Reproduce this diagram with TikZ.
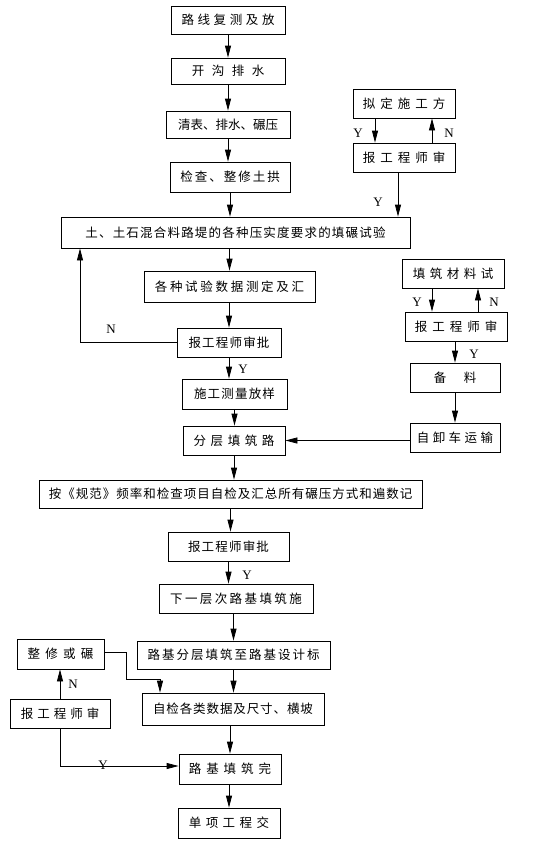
\documentclass[tikz,border=0pt]{standalone}
\usepackage{fontspec}
\setmainfont{Liberation Serif}
\newfontfamily\cjk{Noto Sans CJK SC}
\usetikzlibrary{arrows.meta}
\makeatletter
% 字间距：在每两个汉字之间插入 #1
\newcommand\spreadcjk[2]{\def\spread@gap{}\@tfor\spread@c:=#2\do{\spread@gap\spread@c\def\spread@gap{\kern#1}}}
\makeatother
\tikzset{
	flowbox/.style={draw, line width=0.8pt, inner sep=0pt, font=\cjk\fontsize{12.5}{14}\selectfont},
	yn/.style={inner sep=0pt, font=\fontsize{13}{14}\selectfont},
}
\begin{document}
\begin{tikzpicture}[x=1pt, y=-1pt, >={Triangle[length=12pt,width=6pt]}, line width=0.8pt]
	\useasboundingbox (0,0) rectangle (553,846);
	
	% 1. 主流程方框
	\node[flowbox, minimum width=114pt, minimum height=28pt] (fuce) at (228,20) {\spreadcjk{3.6pt}{路线复测及放}};
	\node[flowbox, minimum width=114pt, minimum height=26pt] (paishui) at (228,71) {\spreadcjk{7.5pt}{开沟排水}};
	\node[flowbox, minimum width=124pt, minimum height=27pt] (qingbiao) at (228,124.5) {清表、排水、碾压};
	\node[flowbox, minimum width=120pt, minimum height=30pt] (jiancha) at (230,177) {\spreadcjk{2pt}{检查、整修土拱}};
	\node[flowbox, minimum width=349pt, minimum height=31pt] (tianshi) at (235.5,232.5) {\spreadcjk{1.2pt}{土、土石混合料路堤的各种压实度要求的填碾试验}};
	\node[flowbox, minimum width=171pt, minimum height=31pt] (shuju) at (229.5,286.5) {\spreadcjk{2.7pt}{各种试验数据测定及汇}};
	\node[flowbox, minimum width=104pt, minimum height=29pt] (shenpiA) at (229,342.5) {\spreadcjk{1.2pt}{报工程师审批}};
	\node[flowbox, minimum width=105pt, minimum height=30pt] (celiang) at (234.5,394) {\spreadcjk{1.2pt}{施工测量放样}};
	\node[flowbox, minimum width=102pt, minimum height=29pt] (fenceng) at (234,440.5) {\spreadcjk{4.6pt}{分层填筑路}};
	\node[flowbox, minimum width=383pt, minimum height=28pt] (jiyu) at (230.5,494) {\spreadcjk{1pt}{按《规范》频率和检查项目自检及汇总所有碾压方式和遍数记}};
	\node[flowbox, minimum width=121pt, minimum height=29pt] (shenpiB) at (228.5,546.5) {\spreadcjk{1.2pt}{报工程师审批}};
	\node[flowbox, minimum width=154pt, minimum height=29pt] (xiaceng) at (236,598.5) {\spreadcjk{2.4pt}{下一层次路基填筑施}};
	\node[flowbox, minimum width=193pt, minimum height=28pt] (sheji) at (233.5,655) {\spreadcjk{2pt}{路基分层填筑至路基设计标}};
	\node[flowbox, minimum width=182pt, minimum height=32pt] (zijian) at (233,709) {\spreadcjk{0.9pt}{自检各类数据及尺寸、横坡}};
	\node[flowbox, minimum width=102pt, minimum height=30pt] (wancheng) at (230,769) {\spreadcjk{4.9pt}{路基填筑完}};
	\node[flowbox, minimum width=102pt, minimum height=30pt] (jiaojie) at (229,823) {\spreadcjk{4.4pt}{单项工程交}};
	
	% 2. 右侧方框
	\node[flowbox, minimum width=102pt, minimum height=29pt] (niding) at (404,103.5) {\spreadcjk{5pt}{拟定施工方}};
	\node[flowbox, minimum width=102pt, minimum height=29pt] (baoA) at (404,157.5) {\spreadcjk{5pt}{报工程师审}};
	\node[flowbox, minimum width=102pt, minimum height=29pt] (cailiao) at (453,273.5) {\spreadcjk{4.5pt}{填筑材料试}};
	\node[flowbox, minimum width=102pt, minimum height=29pt] (baoB) at (456,326.5) {\spreadcjk{5pt}{报工程师审}};
	\node[flowbox, minimum width=90pt, minimum height=29pt] (beiliao) at (455,377.5) {\spreadcjk{17.5pt}{备料}};
	\node[flowbox, minimum width=90pt, minimum height=29pt] (yunshu) at (455,437.5) {\spreadcjk{3.4pt}{自卸车运输}};
	
	% 3. 左侧方框
	\node[flowbox, minimum width=87pt, minimum height=30pt] (zhengxiu) at (60.5,654) {\spreadcjk{5.3pt}{整修或碾}};
	\node[flowbox, minimum width=100pt, minimum height=29pt] (baoC) at (60,713.5) {\spreadcjk{4pt}{报工程师审}};
	
	% 4. 主流程箭头
	\draw[->] (fuce) -- (paishui);
	\draw[->] (paishui) -- (qingbiao);
	\draw[->] (qingbiao) -- (qingbiao.south |- jiancha.north);
	\draw[->] (jiancha.south) -- (jiancha.south |- tianshi.north);
	\draw[->] (shuju.north |- tianshi.south) -- (shuju.north);
	\draw[->] (shenpiA.north |- shuju.south) -- (shenpiA.north);
	\draw[->] (shenpiA.south) -- (shenpiA.south |- celiang.north);
	\draw[->] (celiang.south) -- (celiang.south |- fenceng.north);
	\draw[->] (fenceng.south) -- (fenceng.south |- jiyu.north);
	\draw[->] (jiyu.south) -- (jiyu.south |- shenpiB.north);
	\draw[->] (shenpiB.south) -- (shenpiB.south |- xiaceng.north);
	\draw[->] (sheji.north |- xiaceng.south) -- (sheji.north);
	\draw[->] (sheji.south) -- (sheji.south |- zijian.north);
	\draw[->] (wancheng.north |- zijian.south) -- (wancheng.north);
	\draw[->] (jiaojie.north |- wancheng.south) -- (jiaojie.north);
	
	% 5. 反馈与支路
	\coordinate (nleft) at (80,0);
	\draw[->] (shenpiA.west) -| (nleft |- tianshi.south);
	\draw[->] ([xshift=-29pt]niding.south) -- ([xshift=-29pt]baoA.north);
	\draw[->] ([xshift=28pt]baoA.north) -- ([xshift=28pt]niding.south);
	\draw[->] ([xshift=-6pt]baoA.south) -- ([xshift=-6pt]baoA.south |- tianshi.north);
	\draw[->] ([xshift=-21pt]cailiao.south) -- ([xshift=-21pt]cailiao.south |- baoB.north);
	\draw[->] ([xshift=25pt]cailiao.south |- baoB.north) -- ([xshift=25pt]cailiao.south);
	\draw[->] (beiliao.north |- baoB.south) -- (beiliao.north);
	\draw[->] (beiliao) -- (yunshu);
	\draw[->] (yunshu.west |- fenceng.east) -- (fenceng.east);
	\coordinate (zturn) at (126,679);
	\draw[->] ([yshift=2pt]zhengxiu.east) -| (zturn) -| ([xshift=-73pt]zijian.north);
	\draw[->] (baoC.north) -- (baoC.north |- zhengxiu.south);
	\draw[->] (baoC.south) |- ([yshift=3pt]wancheng.west);
	
	% 6. Y/N 标注
	\node[yn] (yA) at (358,133) {Y};
	\node[yn] (nA) at (449,133) {N};
	\node[yn] (yB) at (378,202) {Y};
	\node[yn] (nB) at (111,329) {N};
	\node[yn] (yC) at (243,369) {Y};
	\node[yn] (yD) at (417,302) {Y};
	\node[yn] (nD) at (494,302) {N};
	\node[yn] (yE) at (474,354) {Y};
	\node[yn] (yF) at (247,575) {Y};
	\node[yn] (nF) at (73,684) {N};
	\node[yn] (yG) at (103,765) {Y};
\end{tikzpicture}
\end{document}
